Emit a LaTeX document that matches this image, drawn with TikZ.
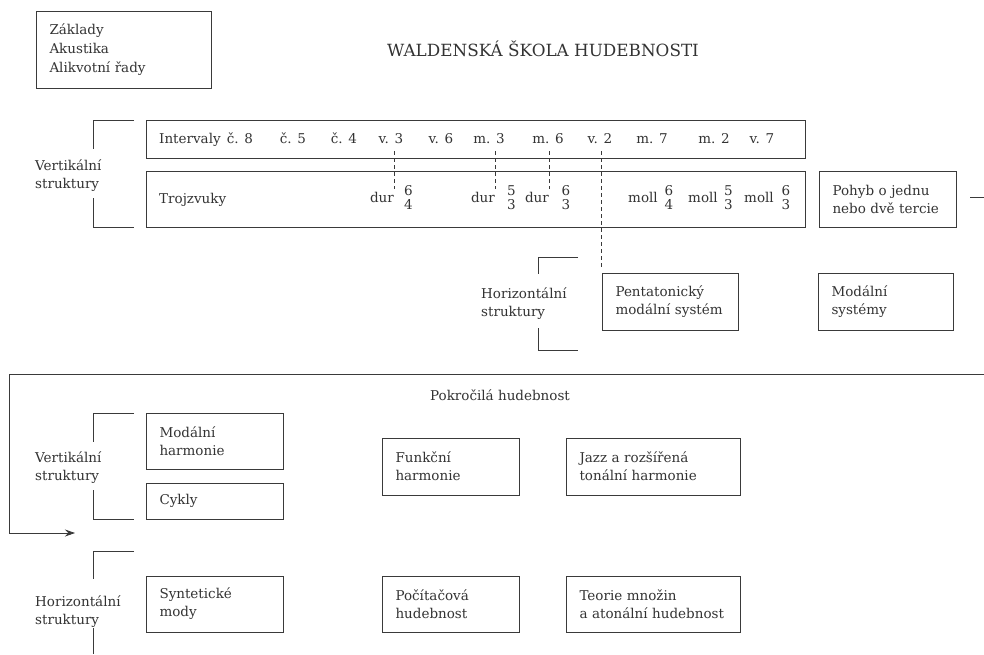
\documentclass[tikz,border=0pt]{standalone}
\usepackage{fontspec}
\setmainfont{DejaVu Serif}
\usetikzlibrary{arrows.meta}
\definecolor{linec}{HTML}{3A3A3A}
\definecolor{txtc}{HTML}{333333}
\newcommand\bodyf{\fontsize{13.5}{18}\selectfont}
\newcommand\titlef{\fontsize{16.8}{20}\selectfont}
\begin{document}
\begin{tikzpicture}[x=1pt,y=-1pt,
  ln/.style={draw=linec, line width=0.8pt},
  bx/.style={draw=linec, line width=0.8pt, rectangle, inner ysep=0pt, inner xsep=13.5pt,
    align=left, font=\bodyf, text=txtc, anchor=center},
  frm/.style={draw=linec, line width=0.8pt, rectangle, inner sep=0pt},
  lbl/.style={font=\bodyf, text=txtc, inner sep=0pt},
  dsh/.style={draw=linec, line width=0.8pt, dash pattern=on 4pt off 3pt},
  ]
\useasboundingbox (0,0) rectangle (984,654);

% top box and title
\node[bx, text width=148pt, minimum height=77pt] (zak) at (123.5,49.5)
  {Základy\\[1pt]Akustika\\[1pt]Alikvotní řady};
\node[font=\titlef, text=txtc, anchor=base, inner sep=0pt] (title) at (543,56.5) {WALDENSKÁ ŠKOLA HUDEBNOSTI};

% intervals box
\node[frm, minimum width=659pt, minimum height=38pt] (intv) at (475.5,139) {};
\node[lbl, anchor=base west] (ivl) at (159,143) {Intervaly};
\node[lbl, anchor=base] (i8) at (240,143) {č. 8};
\node[lbl, anchor=base] (i5) at (293,143) {č. 5};
\node[lbl, anchor=base] (i4) at (344,143) {č. 4};
\node[lbl, anchor=base] (iv3) at (391,143) {v. 3};
\node[lbl, anchor=base] (iv6) at (441,143) {v. 6};
\node[lbl, anchor=base] (im3) at (489,143) {m. 3};
\node[lbl, anchor=base] (im6) at (548,143) {m. 6};
\node[lbl, anchor=base] (iv2) at (600,143) {v. 2};
\node[lbl, anchor=base] (im7) at (652,143) {m. 7};
\node[lbl, anchor=base] (im2) at (714,143) {m. 2};
\node[lbl, anchor=base] (iv7) at (762,143) {v. 7};

% triads box
\node[frm, minimum width=659pt, minimum height=56pt] (troj) at (475.5,199) {};
\node[lbl, anchor=base west] (trl) at (159,203) {Trojzvuky};
\node[lbl, anchor=base east] (c1) at (394,202) {dur};
\node[lbl, anchor=base] (c1a) at (408.5,195) {6};
\node[lbl, anchor=base] (c1b) at (408.5,209.5) {4};
\node[lbl, anchor=base east] (c2) at (495,202) {dur};
\node[lbl, anchor=base] (c2a) at (511.5,195) {5};
\node[lbl, anchor=base] (c2b) at (511.5,209.5) {3};
\node[lbl, anchor=base east] (c3) at (549,202) {dur};
\node[lbl, anchor=base] (c3a) at (566,195) {6};
\node[lbl, anchor=base] (c3b) at (566,209.5) {3};
\node[lbl, anchor=base east] (c4) at (658,202) {moll};
\node[lbl, anchor=base] (c4a) at (669,195) {6};
\node[lbl, anchor=base] (c4b) at (669,209.5) {4};
\node[lbl, anchor=base east] (c5) at (718,202) {moll};
\node[lbl, anchor=base] (c5a) at (728.5,195) {5};
\node[lbl, anchor=base] (c5b) at (728.5,209.5) {3};
\node[lbl, anchor=base east] (c6) at (774,202) {moll};
\node[lbl, anchor=base] (c6a) at (786,195) {6};
\node[lbl, anchor=base] (c6b) at (786,209.5) {3};

\node[bx, text width=110pt, minimum height=56pt] (pohyb) at (887.5,199)
  {Pohyb o jednu\\nebo dvě tercie};
\coordinate (rend) at (984,197);
\draw[ln] ([xshift=14pt]pohyb.east |- rend) -- (rend);

% upper vertical bracket
\node[lbl, anchor=west, align=left] (vs1) at (35,175.5) {Vertikální\\struktury};
\draw[ln] (134,120) -- (93,120) -- (93,149);
\draw[ln] (93,198) -- (93,227) -- (134,227);

% horizontal structures (middle)
\node[bx, text width=109pt, minimum height=57pt] (penta) at (670,301.5)
  {Pentatonický\\modální systém};
\node[bx, text width=108pt, minimum height=57pt] (modsys) at (885.5,301.5)
  {Modální\\systémy};
\node[lbl, anchor=west, align=left] (hs1) at (481,304) {Horizontální\\struktury};
\draw[ln] (578,257) -- (538,257) -- (538,274);
\draw[ln] (538,328) -- (538,350) -- (578,350);

% dashed connectors
\path (c1.north east |- iv3.south) coordinate (d1);
\draw[dsh] ([yshift=-8pt]d1) -- ([yshift=3pt]c1.north east);
\path (c2.north east |- im3.south) coordinate (d2);
\draw[dsh] ([yshift=-8pt]d2) -- ([yshift=3pt]c2.north east);
\path (c3.north east |- im6.south) coordinate (d3);
\draw[dsh] ([yshift=-8pt]d3) -- ([yshift=3pt]c3.north east);
\path (penta.north west |- iv2.south) coordinate (d4);
\draw[dsh] ([yshift=-8pt]d4) -- ([yshift=6pt]penta.north west);

% advanced music frame
\coordinate (fr0) at (984,374);
\coordinate (fr1) at (9.3,374);
\coordinate (fr2) at (9.3,533);
\coordinate (fr3) at (75,533);
\draw[ln, -{Stealth[length=10pt,width=7pt]}] (fr0) -- (fr1) -- (fr2) -- (fr3);
\node[lbl] (pokr) at (500,395) {Pokročilá hudebnost};

\node[bx, text width=110pt, minimum height=56pt] (modharm) at (214.5,441)
  {Modální\\harmonie};
\node[bx, text width=110pt, minimum height=36pt] (cykly) at (214.5,501) {Cykly};
\node[bx, text width=110pt, minimum height=57pt] (funk) at (450.5,466.5)
  {Funkční\\harmonie};
\node[bx, text width=147pt, minimum height=57pt] (jazz) at (653,466.5)
  {Jazz a rozšířená\\tonální harmonie};
\node[lbl, anchor=west, align=left] (vs2) at (35,468) {Vertikální\\struktury};
\draw[ln] (134,413) -- (93,413) -- (93,442);
\draw[ln] (93,490) -- (93,519) -- (134,519);

\node[bx, text width=110pt, minimum height=56pt] (synt) at (214.5,604)
  {Syntetické\\mody};
\node[bx, text width=110pt, minimum height=56pt] (poc) at (450.5,604)
  {Počítačová\\hudebnost};
\node[bx, text width=147pt, minimum height=56pt] (teor) at (653,604)
  {Teorie množin\\a atonální hudebnost};
\node[lbl, anchor=west, align=left] (hs2) at (35,612) {Horizontální\\struktury};
\draw[ln] (134,551) -- (93,551) -- (93,579);
\draw[ln] (93,628) -- (93,654);
\end{tikzpicture}
\end{document}
